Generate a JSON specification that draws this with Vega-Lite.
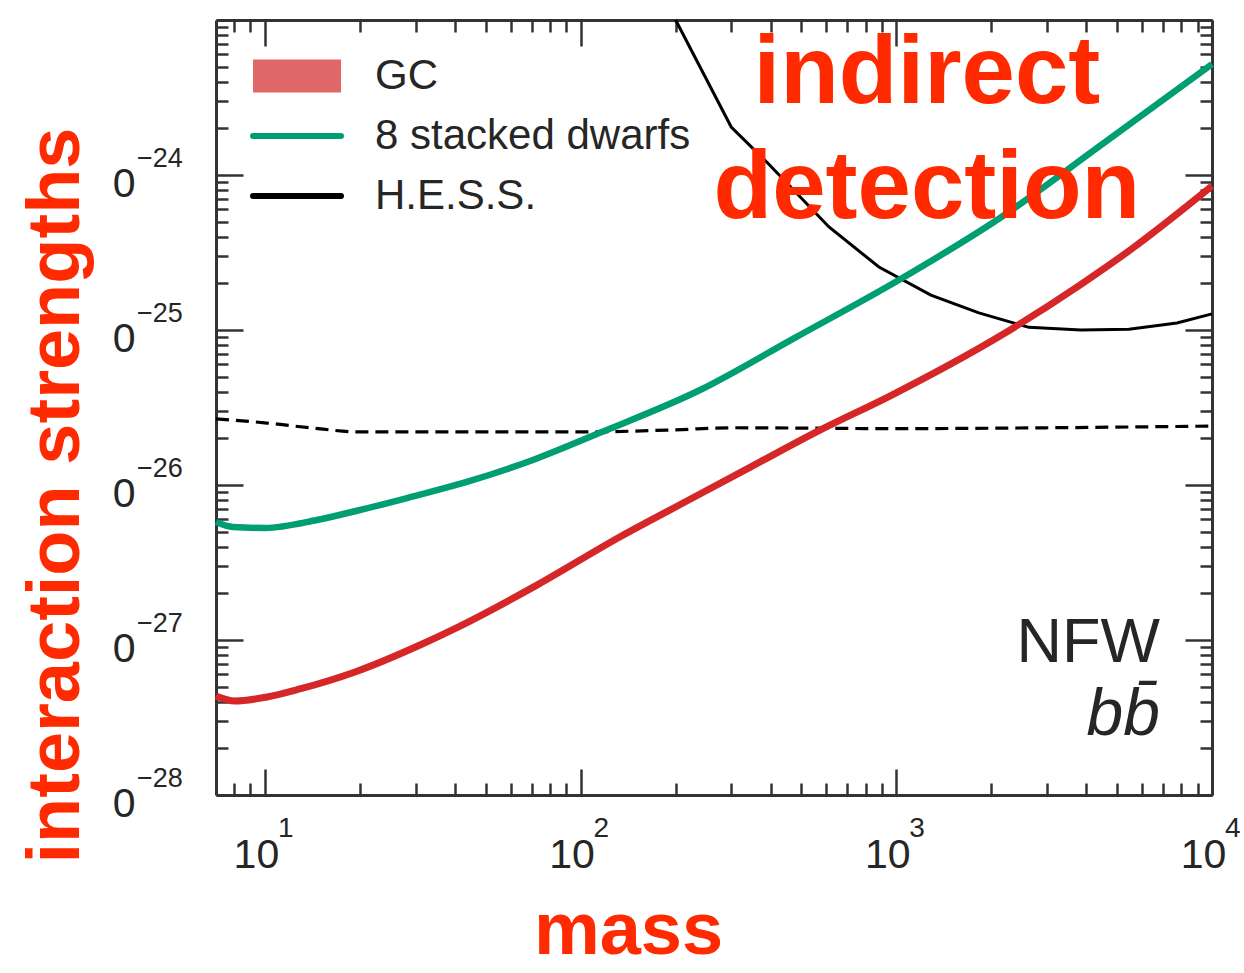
{
  "$schema": "https://vega.github.io/schema/vega-lite/v6.json",
  "width": 996,
  "height": 775,
  "autosize": "none",
  "padding": {"left": 216, "top": 20, "right": 32, "bottom": 178},
  "background": "white",
  "config": {"view": {"stroke": null}, "font": "Liberation Sans"},
  "datasets": {
    "curves": [
      {"series": "H.E.S.S.", "m": 200, "s": 1e-23},
      {"series": "H.E.S.S.", "m": 300, "s": 2.04e-24},
      {"series": "H.E.S.S.", "m": 392, "s": 1.19e-24},
      {"series": "H.E.S.S.", "m": 612, "s": 4.62e-25},
      {"series": "H.E.S.S.", "m": 881, "s": 2.55e-25},
      {"series": "H.E.S.S.", "m": 1287, "s": 1.68e-25},
      {"series": "H.E.S.S.", "m": 1826, "s": 1.29e-25},
      {"series": "H.E.S.S.", "m": 2630, "s": 1.04e-25},
      {"series": "H.E.S.S.", "m": 3843, "s": 1.0e-25},
      {"series": "H.E.S.S.", "m": 5455, "s": 1.01e-25},
      {"series": "H.E.S.S.", "m": 7742, "s": 1.11e-25},
      {"series": "H.E.S.S.", "m": 10000, "s": 1.27e-25},
      {"series": "8 stacked dwarfs", "m": 7.0, "s": 5.77e-27},
      {"series": "8 stacked dwarfs", "m": 7.92, "s": 5.36e-27},
      {"series": "8 stacked dwarfs", "m": 10, "s": 5.28e-27},
      {"series": "8 stacked dwarfs", "m": 14.6, "s": 5.94e-27},
      {"series": "8 stacked dwarfs", "m": 20, "s": 6.9e-27},
      {"series": "8 stacked dwarfs", "m": 28.2, "s": 8.24e-27},
      {"series": "8 stacked dwarfs", "m": 43.6, "s": 1.046e-26},
      {"series": "8 stacked dwarfs", "m": 70.6, "s": 1.45e-26},
      {"series": "8 stacked dwarfs", "m": 115, "s": 2.17e-26},
      {"series": "8 stacked dwarfs", "m": 239, "s": 4.1e-26},
      {"series": "8 stacked dwarfs", "m": 477, "s": 8.9e-26},
      {"series": "8 stacked dwarfs", "m": 1019, "s": 2.1e-25},
      {"series": "8 stacked dwarfs", "m": 2130, "s": 5.28e-25},
      {"series": "8 stacked dwarfs", "m": 4415, "s": 1.54e-24},
      {"series": "8 stacked dwarfs", "m": 10000, "s": 5.2e-24},
      {"series": "GC", "m": 7.0, "s": 4.35e-28},
      {"series": "GC", "m": 8.03, "s": 4.04e-28},
      {"series": "GC", "m": 10.15, "s": 4.29e-28},
      {"series": "GC", "m": 12.9, "s": 4.83e-28},
      {"series": "GC", "m": 19.3, "s": 6.22e-28},
      {"series": "GC", "m": 31.0, "s": 9.28e-28},
      {"series": "GC", "m": 41.5, "s": 1.23e-27},
      {"series": "GC", "m": 72.7, "s": 2.26e-27},
      {"series": "GC", "m": 133, "s": 4.62e-27},
      {"series": "GC", "m": 217, "s": 7.88e-27},
      {"series": "GC", "m": 351, "s": 1.33e-26},
      {"series": "GC", "m": 573, "s": 2.26e-26},
      {"series": "GC", "m": 954, "s": 3.75e-26},
      {"series": "GC", "m": 2130, "s": 9.15e-26},
      {"series": "GC", "m": 3815, "s": 1.95e-25},
      {"series": "GC", "m": 5615, "s": 3.38e-25},
      {"series": "GC", "m": 10000, "s": 8.49e-25}
    ],
    "relic": [
      {"m": 7.0, "s": 2.67e-26},
      {"m": 10.15, "s": 2.51e-26},
      {"m": 13.9, "s": 2.34e-26},
      {"m": 20, "s": 2.2e-26},
      {"m": 100, "s": 2.2e-26},
      {"m": 200, "s": 2.27e-26},
      {"m": 300, "s": 2.34e-26},
      {"m": 1000, "s": 2.31e-26},
      {"m": 3000, "s": 2.34e-26},
      {"m": 10000, "s": 2.4e-26}
    ],
    "xexp": [
      {"m": 10, "e": "1"},
      {"m": 100, "e": "2"},
      {"m": 1000, "e": "3"},
      {"m": 10000, "e": "4"}
    ],
    "yexp": [
      {"s": 1e-24, "e": "−24"},
      {"s": 1e-25, "e": "−25"},
      {"s": 1e-26, "e": "−26"},
      {"s": 1e-27, "e": "−27"},
      {"s": 1e-28, "e": "−28"}
    ],
    "one": [{"k": 1}]
  },
  "resolve": {"axis": {"x": "independent", "y": "independent"}},
  "layer": [
    {
      "data": {"name": "relic"},
      "mark": {"type": "line", "color": "black", "strokeWidth": 3.2, "strokeDash": [13, 7], "interpolate": "monotone"},
      "encoding": {
        "x": {
          "field": "m", "type": "quantitative",
          "scale": {"type": "log", "domain": [7, 10000], "nice": false},
          "axis": {
            "orient": "bottom",
            "values": [10, 100, 1000, 10000],
            "labelExpr": "'10'",
            "grid": false,
            "domainColor": "#333333", "domainWidth": 3,
            "tickColor": "#333333", "tickWidth": 2.5, "tickSize": -26,
            "labelFont": "Liberation Sans", "labelFontSize": 41, "labelColor": "#262626",
            "labelBaseline": "alphabetic", "labelAlign": "center",
            "labelPadding": 98, "labelOffset": -9,
            "labelFlush": false, "labelOverlap": false, "labelBound": false,
            "title": "mass",
            "titleFont": "Liberation Sans", "titleFontSize": 74, "titleFontWeight": "bold", "titleColor": "#ff2a00",
            "titleX": 412, "titleY": 158, "titleBaseline": "alphabetic", "titleAlign": "center"
          }
        },
        "y": {
          "field": "s", "type": "quantitative",
          "scale": {"type": "log", "domain": [1e-28, 1e-23], "nice": false},
          "axis": {
            "orient": "left",
            "values": [1e-28, 1e-27, 1e-26, 1e-25, 1e-24, 1e-23],
            "labelExpr": "datum.value > 5e-24 ? '' : '0'",
            "grid": false,
            "domainColor": "#333333", "domainWidth": 3,
            "tickColor": "#333333", "tickWidth": 2.5, "tickSize": -27,
            "labelFont": "Liberation Sans", "labelFontSize": 41, "labelColor": "#262626",
            "labelBaseline": "alphabetic", "labelAlign": "right",
            "labelPadding": 108, "labelOffset": 21,
            "labelFlush": false, "labelOverlap": false, "labelBound": false,
            "title": "interaction strengths",
            "titleFont": "Liberation Sans", "titleFontSize": 74, "titleFontWeight": "bold", "titleColor": "#ff2a00",
            "titleAngle": 270, "titleX": -138, "titleY": 475, "titleBaseline": "alphabetic", "titleAlign": "center"
          }
        }
      }
    },
    {
      "data": {"name": "curves"},
      "transform": [{"filter": "datum.series === 'H.E.S.S.'"}],
      "mark": {"type": "line", "strokeWidth": 3},
      "encoding": {
        "x": {
          "field": "m", "type": "quantitative",
          "scale": {"type": "log", "domain": [7, 10000], "nice": false},
          "axis": {
            "orient": "bottom",
            "values": [8, 9, 20, 30, 40, 50, 60, 70, 80, 90, 200, 300, 400, 500, 600, 700, 800, 900, 2000, 3000, 4000, 5000, 6000, 7000, 8000, 9000],
            "labels": false, "grid": false, "title": null, "domain": false,
            "tickColor": "#333333", "tickWidth": 2.5, "tickSize": -12
          }
        },
        "y": {
          "field": "s", "type": "quantitative",
          "scale": {"type": "log", "domain": [1e-28, 1e-23], "nice": false},
          "axis": {
            "orient": "left",
            "values": [2e-28, 3e-28, 4e-28, 5e-28, 6e-28, 7e-28, 8e-28, 9e-28, 2e-27, 3e-27, 4e-27, 5e-27, 6e-27, 7e-27, 8e-27, 9e-27, 2e-26, 3e-26, 4e-26, 5e-26, 6e-26, 7e-26, 8e-26, 9e-26, 2e-25, 3e-25, 4e-25, 5e-25, 6e-25, 7e-25, 8e-25, 9e-25, 2e-24, 3e-24, 4e-24, 5e-24, 6e-24, 7e-24, 8e-24, 9e-24],
            "labels": false, "grid": false, "title": null, "domain": false,
            "tickColor": "#333333", "tickWidth": 2.5, "tickSize": -12
          }
        },
        "color": {
          "field": "series", "type": "nominal",
          "scale": {"domain": ["GC", "8 stacked dwarfs", "H.E.S.S."], "range": ["#d62728", "#009e73", "#000000"]},
          "legend": {
            "title": null, "orient": "none", "legendX": 56, "legendY": 31, "padding": 0,
            "symbolType": "stroke", "symbolSize": 1936, "symbolStrokeWidth": 6,
            "labelFont": "Liberation Sans", "labelFontSize": 42, "labelColor": "#262626", "labelOffset": 53, "labelLimit": 1000,
            "rowPadding": 14,
            "encode": {"symbols": {"update": {
              "shape": [{"test": "datum.value === 'GC'", "value": "M-2,-0.75H2V0.75H-2Z"}, {"value": "M-2,0H2"}],
              "fill": [{"test": "datum.value === 'GC'", "value": "#e06868"}, {"value": "transparent"}],
              "strokeOpacity": [{"test": "datum.value === 'GC'", "value": 0}, {"value": 1}],
              "strokeWidth": {"value": 6},
              "strokeCap": {"value": "round"},
              "opacity": {"value": 1}
            }}}
          }
        }
      }
    },
    {
      "data": {"name": "curves"},
      "transform": [{"filter": "datum.series === '8 stacked dwarfs'"}],
      "mark": {"type": "line", "strokeWidth": 6.5, "interpolate": "monotone"},
      "encoding": {
        "x": {
          "field": "m", "type": "quantitative",
          "scale": {"type": "log", "domain": [7, 10000], "nice": false},
          "axis": {
            "orient": "top",
            "values": [10, 100, 1000, 10000],
            "labels": false, "grid": false, "title": null,
            "domainColor": "#333333", "domainWidth": 3,
            "tickColor": "#333333", "tickWidth": 2.5, "tickSize": -26
          }
        },
        "y": {
          "field": "s", "type": "quantitative",
          "scale": {"type": "log", "domain": [1e-28, 1e-23], "nice": false},
          "axis": {
            "orient": "right",
            "values": [1e-28, 1e-27, 1e-26, 1e-25, 1e-24, 1e-23],
            "labels": false, "grid": false, "title": null,
            "domainColor": "#333333", "domainWidth": 3,
            "tickColor": "#333333", "tickWidth": 2.5, "tickSize": -27
          }
        },
        "color": {"field": "series", "type": "nominal", "scale": {"domain": ["GC", "8 stacked dwarfs", "H.E.S.S."], "range": ["#d62728", "#009e73", "#000000"]}}
      }
    },
    {
      "data": {"name": "curves"},
      "transform": [{"filter": "datum.series === 'GC'"}],
      "mark": {"type": "line", "strokeWidth": 7, "interpolate": "monotone"},
      "encoding": {
        "x": {
          "field": "m", "type": "quantitative",
          "scale": {"type": "log", "domain": [7, 10000], "nice": false},
          "axis": {
            "orient": "top",
            "values": [8, 9, 20, 30, 40, 50, 60, 70, 80, 90, 200, 300, 400, 500, 600, 700, 800, 900, 2000, 3000, 4000, 5000, 6000, 7000, 8000, 9000],
            "labels": false, "grid": false, "title": null, "domain": false,
            "tickColor": "#333333", "tickWidth": 2.5, "tickSize": -12
          }
        },
        "y": {
          "field": "s", "type": "quantitative",
          "scale": {"type": "log", "domain": [1e-28, 1e-23], "nice": false},
          "axis": {
            "orient": "right",
            "values": [2e-28, 3e-28, 4e-28, 5e-28, 6e-28, 7e-28, 8e-28, 9e-28, 2e-27, 3e-27, 4e-27, 5e-27, 6e-27, 7e-27, 8e-27, 9e-27, 2e-26, 3e-26, 4e-26, 5e-26, 6e-26, 7e-26, 8e-26, 9e-26, 2e-25, 3e-25, 4e-25, 5e-25, 6e-25, 7e-25, 8e-25, 9e-25, 2e-24, 3e-24, 4e-24, 5e-24, 6e-24, 7e-24, 8e-24, 9e-24],
            "labels": false, "grid": false, "title": null, "domain": false,
            "tickColor": "#333333", "tickWidth": 2.5, "tickSize": -12
          }
        },
        "color": {"field": "series", "type": "nominal", "scale": {"domain": ["GC", "8 stacked dwarfs", "H.E.S.S."], "range": ["#d62728", "#009e73", "#000000"]}}
      }
    },
    {
      "data": {"name": "xexp"},
      "mark": {"type": "text", "align": "left", "baseline": "alphabetic", "dx": 13, "dy": 42, "fontSize": 28, "color": "#262626", "font": "Liberation Sans"},
      "encoding": {
        "x": {"field": "m", "type": "quantitative", "scale": {"type": "log", "domain": [7, 10000], "nice": false}, "axis": null},
        "y": {"datum": 1e-28, "type": "quantitative", "scale": {"type": "log", "domain": [1e-28, 1e-23], "nice": false}, "axis": null},
        "text": {"field": "e"}
      }
    },
    {
      "data": {"name": "yexp"},
      "mark": {"type": "text", "align": "left", "baseline": "alphabetic", "dx": -79, "dy": -8, "fontSize": 27, "color": "#262626", "font": "Liberation Sans"},
      "encoding": {
        "x": {"datum": 7, "type": "quantitative", "scale": {"type": "log", "domain": [7, 10000], "nice": false}, "axis": null},
        "y": {"field": "s", "type": "quantitative", "scale": {"type": "log", "domain": [1e-28, 1e-23], "nice": false}, "axis": null},
        "text": {"field": "e"}
      }
    },
    {
      "data": {"name": "one"},
      "mark": {"type": "text", "text": ["indirect", "detection"], "lineHeight": 115, "align": "center", "baseline": "alphabetic", "fontSize": 96, "fontWeight": "bold", "color": "#ff2a00", "font": "Liberation Sans"},
      "encoding": {
        "x": {"datum": 1250, "type": "quantitative", "scale": {"type": "log", "domain": [7, 10000], "nice": false}, "axis": null},
        "y": {"datum": 2.914e-24, "type": "quantitative", "scale": {"type": "log", "domain": [1e-28, 1e-23], "nice": false}, "axis": null}
      }
    },
    {
      "data": {"name": "one"},
      "mark": {"type": "text", "text": "NFW", "align": "right", "baseline": "alphabetic", "fontSize": 63, "color": "#262626", "font": "Liberation Sans"},
      "encoding": {
        "x": {"datum": 6840, "type": "quantitative", "scale": {"type": "log", "domain": [7, 10000], "nice": false}, "axis": null},
        "y": {"datum": 7.21e-28, "type": "quantitative", "scale": {"type": "log", "domain": [1e-28, 1e-23], "nice": false}, "axis": null}
      }
    },
    {
      "data": {"name": "one"},
      "mark": {"type": "text", "text": "bb̄", "align": "right", "baseline": "alphabetic", "fontSize": 66, "fontStyle": "italic", "color": "#262626", "font": "Liberation Sans"},
      "encoding": {
        "x": {"datum": 6840, "type": "quantitative", "scale": {"type": "log", "domain": [7, 10000], "nice": false}, "axis": null},
        "y": {"datum": 2.44e-28, "type": "quantitative", "scale": {"type": "log", "domain": [1e-28, 1e-23], "nice": false}, "axis": null}
      }
    }
  ]
}
